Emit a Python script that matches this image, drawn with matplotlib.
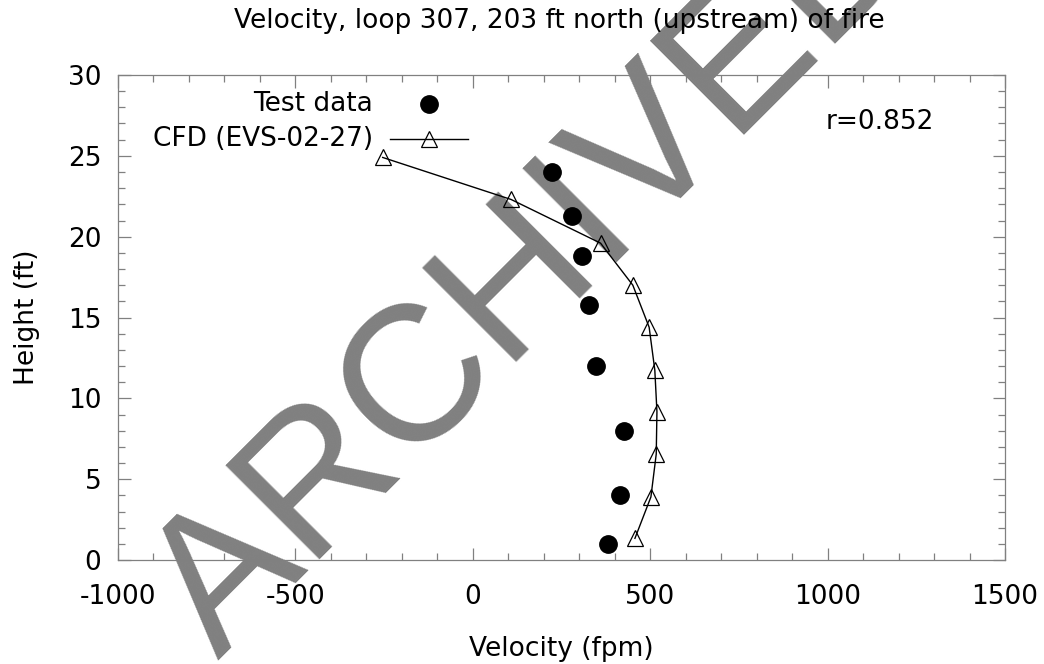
import matplotlib
matplotlib.use('Agg')
import matplotlib.pyplot as plt
from matplotlib.ticker import MultipleLocator

# measured velocity profile (fpm) vs height (ft)
test_vel = [223, 280, 308, 327, 347, 426, 415, 381]
test_h = [24.0, 21.3, 18.8, 15.8, 12.0, 8.0, 4.0, 1.0]

# CFD run EVS-02-27
cfd_vel = [-254, 108, 360, 451, 497, 513, 519, 517, 502, 457]
cfd_h = [24.9, 22.3, 19.6, 17.0, 14.4, 11.75, 9.17, 6.55, 3.9, 1.34]

xticks = [-1000, -500, 0, 500, 1000, 1500]
yticks = [0, 5, 10, 15, 20, 25, 30]
labels = ['Test data', 'CFD (EVS-02-27)']
corr = 'r=0.852'

plt.rcParams['font.family'] = ['DejaVu Sans']
plt.rcParams['axes.unicode_minus'] = False
fs = 19
frame = '#808080'

fig = plt.figure(figsize=(10.44, 6.64), dpi=100)
ax = fig.add_axes([118 / 1044, 1 - 560 / 664, 887 / 1044, 485 / 664])
ax.set_facecolor('none')

# watermark stamp, sits behind everything else
fig.text(218 / 1044, 3 / 664, 'ARCHIVED', rotation=45, rotation_mode='anchor',
         ha='left', va='baseline', fontsize=139, family='Liberation Sans',
         color='#808080', zorder=-1)

ax.plot(test_vel, test_h, 'o', color='k', ms=12.5, zorder=3)
ax.plot(cfd_vel, cfd_h, '-^', color='k', lw=1.0, ms=11, mfc='none',
        mec='k', mew=0.9, zorder=4)

ax.set_xlim(-1000, 1500)
ax.set_ylim(0, 30)
ax.set_xticks(xticks)
ax.set_yticks(yticks)
ax.xaxis.set_minor_locator(MultipleLocator(100))
ax.yaxis.set_minor_locator(MultipleLocator(1))
ax.tick_params(which='both', direction='in', top=True, right=True,
               color=frame, width=0.9, labelsize=fs)
ax.tick_params(which='major', length=9)
ax.tick_params(which='minor', length=5)
ax.tick_params(axis='x', pad=17)
ax.tick_params(axis='y', pad=12)
for s in ax.spines.values():
    s.set_color(frame)
    s.set_linewidth(0.9)

ax.set_xlabel('Velocity (fpm)', fontsize=fs, labelpad=19)
ax.set_ylabel('Height (ft)', fontsize=fs, labelpad=20)
fig.text(0.536, 1 - 21 / 664, 'Velocity, loop 307, 203 ft north (upstream) of fire',
         ha='center', va='center', fontsize=fs)

# key, text right-aligned with the sample to its right
ax.text(0.2875, 0.940, labels[0], transform=ax.transAxes, ha='right', va='center', fontsize=fs)
ax.plot([0.3506], [0.940], 'o', color='k', ms=12.5, transform=ax.transAxes, clip_on=False)
ax.text(0.2875, 0.868, labels[1], transform=ax.transAxes, ha='right', va='center', fontsize=fs)
ax.plot([0.3067, 0.3946], [0.868, 0.868], '-', color='k', lw=1.0, transform=ax.transAxes, clip_on=False)
ax.plot([0.3506], [0.868], '^', ms=11, mfc='none', mec='k', mew=0.9,
        transform=ax.transAxes, clip_on=False)

ax.text(0.798, 0.903, corr, transform=ax.transAxes, ha='left', va='center', fontsize=fs)

fig.savefig('out.png', dpi=100)
